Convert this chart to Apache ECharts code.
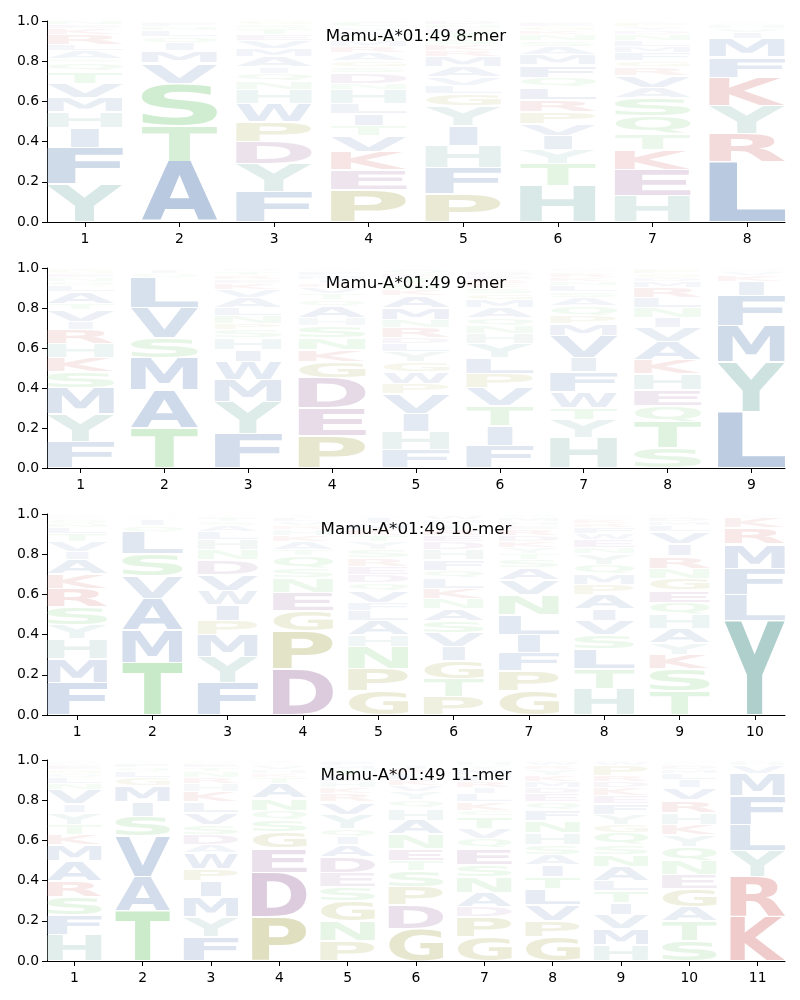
<!DOCTYPE html>
<html><head><meta charset="utf-8">
<script src="https://cdn.jsdelivr.net/npm/echarts@6/dist/echarts.min.js"></script>
<style>html,body{margin:0;padding:0;background:#fff}#c{width:800px;height:1000px}</style>
</head><body><div id="c"></div>
<script>
// ---------- data ----------
const panelTitles = ['Mamu-A*01:49 8-mer', 'Mamu-A*01:49 9-mer', 'Mamu-A*01:49 10-mer', 'Mamu-A*01:49 11-mer'];
const yTickValues = [0, 0.2, 0.4, 0.6, 0.8, 1.0];

// letters stacked bottom -> top at each position, with their probabilities
const mer8Letters = ['YFIHMVTQSALRKEN', 'ATSVMIQLNFW', 'FYDPWHNQIAMVETSG', 'PEKVTILHNDSGARMQFYWC',
  'PFHIYGLVAMRKSTEND', 'HTYIVPRLQFMASNKGEW', 'HEKTQSAVRGFMLNDYPI', 'LRYKFMIVHWA'];
const mer8Heights = [
  [.19,.18,.10,.08,.07,.07,.06,.04,.02,.04,.03,.05,.03,.02,.02],
  [.30,.18,.21,.10,.06,.04,.03,.03,.02,.02,.01],
  [.15,.14,.11,.10,.09,.07,.04,.04,.03,.05,.04,.04,.03,.03,.02,.02],
  [.16,.10,.09,.08,.05,.06,.05,.07,.03,.05,.03,.03,.04,.03,.03,.02,.02,.02,.01,.03],
  [.14,.13,.11,.10,.10,.06,.04,.04,.05,.05,.03,.03,.03,.03,.02,.02,.02],
  [.18,.11,.07,.07,.06,.06,.06,.06,.05,.06,.05,.04,.03,.03,.02,.02,.02,.01],
  [.13,.13,.10,.08,.09,.09,.05,.06,.04,.03,.04,.03,.03,.03,.02,.02,.02,.01],
  [.30,.14,.14,.14,.10,.09,.03,.02,.02,.01,.01]
];

const mer9Letters = ['FYMSKHRIVTALQNEGD', 'TAMSVLQIC', 'FYMWIHSPNLAVKERTQG', 'PEDGKNSHAQTVRIMFYW',
  'FHIVPWGYLDRNMAKSTEQC', 'FITVPLYHNQAMGSKREDWC', 'HYTWFIVMPQASLNKREGD', 'STQEHKAVINLRMDGPF', 'LYMFIKVWH'];
const mer9Heights = [
  [.13,.14,.13,.08,.07,.07,.07,.04,.06,.03,.06,.03,.02,.02,.02,.02,.01],
  [.20,.19,.16,.10,.15,.15,.02,.02,.01],
  [.17,.16,.11,.09,.06,.06,.04,.03,.04,.04,.05,.04,.03,.02,.02,.02,.01,.01],
  [.16,.14,.15,.08,.06,.06,.06,.04,.06,.03,.03,.03,.02,.02,.02,.02,.01,.01],
  [.09,.09,.09,.10,.05,.06,.05,.05,.04,.03,.05,.04,.06,.06,.03,.03,.03,.02,.02,.01],
  [.11,.10,.10,.09,.07,.08,.07,.05,.04,.04,.05,.04,.03,.03,.02,.02,.02,.02,.01,.01],
  [.15,.09,.06,.08,.10,.07,.11,.06,.04,.05,.04,.03,.03,.02,.02,.02,.01,.01,.01],
  [.10,.13,.08,.08,.08,.07,.09,.07,.05,.05,.05,.05,.03,.02,.02,.02,.01],
  [.28,.25,.18,.15,.07,.03,.02,.01,.01]
];

const mer10Letters = ['FMHYSRKAIVTLNQGED', 'TMAVSLQICFG', 'FYMPIWVDNHLASTEG', 'DPGENSQTAKHRVLIY',
  'GPNHALFVQDERSYTKMIWC', 'PTGIVSANKLQFHDERYMWC', 'GPFILNVASTYKDREHMQW', 'HTLSVIAPMQYNEWFRKDGC',
  'TSKYAHQEGNRIVLMDPF', 'YLFMRKIV'];
const mer10Heights = [
  [.16,.12,.10,.07,.09,.09,.07,.07,.04,.05,.04,.03,.02,.02,.01,.01,.01],
  [.26,.16,.16,.11,.11,.11,.03,.03,.01,.01,.01],
  [.16,.13,.11,.07,.08,.07,.08,.07,.05,.05,.04,.03,.02,.02,.01,.01],
  [.23,.19,.10,.09,.07,.05,.06,.03,.04,.03,.03,.02,.02,.02,.01,.01],
  [.12,.11,.11,.06,.07,.05,.04,.06,.04,.04,.04,.04,.04,.04,.03,.03,.03,.03,.01,.01],
  [.09,.09,.09,.07,.07,.06,.06,.05,.05,.05,.04,.05,.05,.04,.03,.03,.03,.02,.02,.01],
  [.12,.10,.09,.09,.10,.10,.07,.06,.04,.03,.03,.03,.03,.03,.02,.02,.02,.01,.01],
  [.13,.10,.10,.07,.07,.06,.07,.05,.05,.05,.05,.03,.04,.03,.03,.02,.02,.01,.01,.01],
  [.12,.11,.07,.06,.07,.07,.06,.06,.06,.05,.06,.06,.06,.03,.02,.02,.01,.01],
  [.47,.13,.13,.12,.08,.05,.01,.01]
];

const mer11Letters = ['HFSRAMKTYIVNLQGEDPW', 'TAVSIMGLQFCY', 'FYMIPWADSVLKHRNTEQG', 'PDEGSQNATKHVLRI',
  'PNGSEDAIQYVRKHLTMFW', 'GDPSTENAHQYVKLRIMFW', 'GPDANSEQVTCKLIRFMYHW', 'GPVLTIASHNFQEDMKYRWC',
  'HMVITLANSQGYFEKDRPWC', 'STAGENQYKHRVILMDPFW', 'KRYLFMVHW'];
const mer11Heights = [
  [.13,.10,.09,.08,.10,.08,.05,.05,.06,.04,.07,.03,.03,.02,.02,.02,.01,.01,.01],
  [.25,.17,.20,.10,.07,.08,.04,.03,.02,.02,.01,.01],
  [.12,.10,.10,.08,.06,.08,.04,.05,.05,.06,.05,.05,.04,.03,.03,.02,.02,.01,.01],
  [.22,.22,.12,.08,.06,.05,.06,.07,.03,.02,.02,.02,.01,.01,.01],
  [.10,.10,.10,.07,.07,.08,.06,.04,.04,.07,.06,.04,.03,.03,.03,.03,.02,.02,.01],
  [.16,.12,.09,.08,.05,.06,.07,.07,.06,.04,.04,.03,.03,.03,.02,.02,.01,.01,.01],
  [.12,.10,.05,.07,.08,.06,.08,.05,.05,.06,.03,.04,.04,.03,.03,.03,.03,.02,.02,.01],
  [.12,.08,.08,.08,.06,.06,.05,.05,.06,.06,.05,.04,.04,.03,.03,.03,.03,.02,.02,.01],
  [.08,.08,.07,.06,.06,.05,.07,.06,.05,.06,.04,.05,.05,.04,.04,.03,.03,.05,.02,.01],
  [.10,.10,.07,.09,.07,.07,.07,.06,.05,.06,.06,.06,.04,.03,.02,.02,.01,.01,.01],
  [.22,.20,.13,.13,.14,.11,.04,.02,.01]
];

const panelLetters = [mer8Letters, mer9Letters, mer10Letters, mer11Letters];
const panelHeights = [mer8Heights, mer9Heights, mer10Heights, mer11Heights];

// ---------- style ----------
const groupRGB = {
  blue: [150,174,207], teal: [170,205,200], green: [164,220,164],
  olive: [195,195,135], purple: [190,157,192], red: [225,154,154]
};
const letterGroup = {A:'blue',V:'blue',L:'blue',I:'blue',M:'blue',F:'blue',W:'blue',
  Y:'teal',H:'teal', S:'green',T:'green',N:'green',Q:'green',C:'green',
  P:'olive',G:'olive', D:'purple',E:'purple', K:'red',R:'red'};
function letterColor(c, h) {
  const rgb = groupRGB[letterGroup[c]] || [180,180,180];
  const a = Math.min(1, Math.pow(h / 0.5, 0.8));
  return 'rgba(' + rgb.join(',') + ',' + a.toFixed(3) + ')';
}
const narrowFrac = { I: 0.37 };

const FONT = 'bold 100px "DejaVu Sans"';
const mctx = document.createElement('canvas').getContext('2d');
mctx.font = FONT; mctx.textBaseline = 'middle'; mctx.textAlign = 'left';
const metricCache = {};
function glyph(c) {
  if (!metricCache[c]) {
    const m = mctx.measureText(c);
    metricCache[c] = { l: m.actualBoundingBoxLeft, r: m.actualBoundingBoxRight,
                       a: m.actualBoundingBoxAscent, d: m.actualBoundingBoxDescent };
  }
  return metricCache[c];
}

const gridTops = [21, 268, 514, 760];
const gridHeights = [201, 200, 201, 201];
const GL = 47, GR = 15;

const grids = [], xAxes = [], yAxes = [], series = [], graphics = [];
const axisFont = { color: '#000', fontSize: 13.9, fontFamily: 'DejaVu Sans' };

panelLetters.forEach((lettersArr, k) => {
  const heights = panelHeights[k];
  const n = lettersArr.length;
  grids.push({ left: GL, right: GR, top: gridTops[k], height: gridHeights[k] });
  const ticks = lettersArr.map((_, i) => i + 1);
  xAxes.push({
    gridIndex: k, type: 'value', min: 0.6, max: n + 0.4,
    axisLine: { show: true, lineStyle: { color: '#000', width: 1 } },
    axisTick: { show: true, customValues: ticks, length: 5, lineStyle: { color: '#000', width: 1 } },
    axisLabel: Object.assign({ customValues: ticks, margin: 10, formatter: v => String(v) }, axisFont),
    splitLine: { show: false }
  });
  yAxes.push({
    gridIndex: k, type: 'value', min: 0, max: 1, interval: 0.2,
    axisLine: { show: true, lineStyle: { color: '#000', width: 1 } },
    axisTick: { show: true, length: 5, lineStyle: { color: '#000', width: 1 } },
    axisLabel: Object.assign({ margin: 8, showMinLabel: true, showMaxLabel: true,
      formatter: v => v.toFixed(1) }, axisFont),
    splitLine: { show: false }
  });
  const data = [], chars = [];
  lettersArr.forEach((str, i) => {
    let cum = 0;
    str.split('').forEach((c, j) => {
      const h = heights[i][j];
      data.push([i + 1, cum, cum + h, h]);
      chars.push(c);
      cum += h;
    });
  });
  series.push({
    type: 'custom', xAxisIndex: k, yAxisIndex: k, clip: false, silent: true,
    data: data,
    renderItem: function (params, api) {
      const c = chars[params.dataIndex];
      const x = api.value(0), y0 = api.value(1), y1 = api.value(2), h = api.value(3);
      const p0 = api.coord([x - 0.4, y1]);
      const p1 = api.coord([x + 0.4, y0]);
      let left = p0[0], right = p1[0], top = p0[1], bottom = p1[1];
      const gap = Math.min(0.75, (bottom - top) * 0.2);
      top += gap; bottom -= gap;
      const wf = narrowFrac[c] || 1;
      const cx = (left + right) / 2, w = (right - left) * wf;
      left = cx - w / 2; right = cx + w / 2;
      const g = glyph(c);
      const sx = (right - left) / (g.l + g.r);
      const sy = (bottom - top) / (g.a + g.d);
      return {
        type: 'text', x: left + g.l * sx, y: top + g.a * sy, scaleX: sx, scaleY: sy, silent: true,
        style: { text: c, x: 0, y: 0, font: FONT, fill: letterColor(c, h),
                 align: 'left', verticalAlign: 'middle', textAlign: 'left', textVerticalAlign: 'middle' }
      };
    }
  });
  graphics.push({
    type: 'text', x: GL + (800 - GL - GR) / 2, y: gridTops[k] + 15.5, silent: true,
    style: { text: panelTitles[k], font: '16.7px "DejaVu Sans"', fill: '#000',
             align: 'center', verticalAlign: 'middle', textAlign: 'center', textVerticalAlign: 'middle' }
  });
});

const chart = echarts.init(document.getElementById('c'), null, { renderer: 'canvas' });
chart.setOption({
  animation: false,
  backgroundColor: '#fff',
  grid: grids, xAxis: xAxes, yAxis: yAxes, series: series, graphic: graphics
});
</script></body></html>
